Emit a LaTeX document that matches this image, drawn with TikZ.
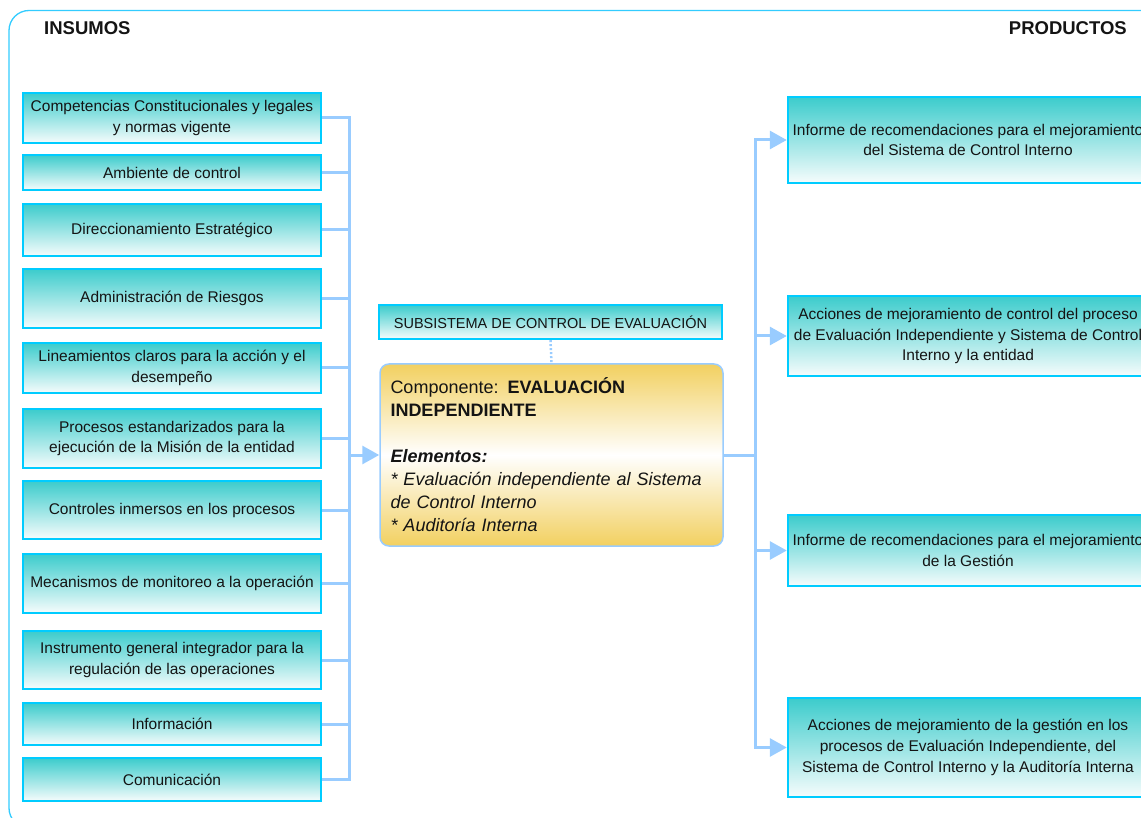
\documentclass[tikz,border=0pt]{standalone}
\usepackage{fontspec}
\setmainfont{Liberation Sans}
\usetikzlibrary{arrows.meta}
\definecolor{boxedge}{RGB}{0,204,255}
\definecolor{boxtop}{RGB}{60,204,204}
\definecolor{boxbot}{RGB}{246,252,252}
\definecolor{link}{RGB}{153,204,255}
\definecolor{framec}{RGB}{51,204,255}
\definecolor{gold}{RGB}{242,208,96}
\definecolor{ink}{RGB}{20,20,20}

\begin{document}
\begin{tikzpicture}[x=1pt,y=-1pt,
  inbox/.style={draw=boxedge, line width=2.4pt, top color=boxtop, bottom color=boxbot,
    minimum width=298pt, align=center, inner sep=2pt, text=ink,
    font=\fontsize{15.5}{20.7}\selectfont},
  outbox/.style={inbox, minimum width=360pt},
  conn/.style={draw=link, line width=3pt},
  tip/.style={-{Triangle[length=17pt,width=18pt]}},
  header/.style={font=\fontsize{18.5}{22}\selectfont\bfseries, text=ink, inner sep=0pt}
]
\useasboundingbox (0,0) rectangle (1141,818);

% outer frame
\draw[framec, line width=1.3pt, rounded corners=20pt] (9,10.5) rectangle (1170,828);

% column headings
\node[header, anchor=base west] (hin) at (44,35) {INSUMOS};
\node[header, anchor=base east] (hout) at (1127,35) {PRODUCTOS};

% inputs
\node[inbox, minimum height=50pt] (i1) at (172,118) {Competencias Constitucionales y legales\\y normas vigente};
\node[inbox, minimum height=35pt] (i2) at (172,172.5) {Ambiente de control};
\node[inbox, minimum height=52pt] (i3) at (172,230) {Direccionamiento Estratégico};
\node[inbox, minimum height=59pt] (i4) at (172,298.5) {Administración de Riesgos};
\node[inbox, minimum height=50pt] (i5) at (172,368) {Lineamientos claros para la acción y el\\desempeño};
\node[inbox, minimum height=59pt] (i6) at (172,438.5) {Procesos estandarizados para la\\ejecución de la Misión de la entidad};
\node[inbox, minimum height=58pt] (i7) at (172,510) {Controles inmersos en los procesos};
\node[inbox, minimum height=59pt] (i8) at (172,583.5) {Mecanismos de monitoreo a la operación};
\node[inbox, minimum height=58pt] (i9) at (172,660) {Instrumento general integrador para la\\regulación de las operaciones};
\node[inbox, minimum height=42pt] (i10) at (172,724) {Información};
\node[inbox, minimum height=43pt] (i11) at (172,779.5) {Comunicación};

% central component
\node[inbox, minimum width=343pt, minimum height=34pt, font=\fontsize{14.5}{17}\selectfont] (sub) at (550.5,322) {SUBSISTEMA DE CONTROL DE EVALUACIÓN};
\node[draw=link, line width=1.5pt, rounded corners=9pt, top color=gold, bottom color=gold, middle color=white,
  minimum width=343pt, minimum height=182pt, text width=322pt, align=left, text=ink,
  font=\fontsize{18}{23}\selectfont] (comp) at (551.5,455)
  {Componente: \textbf{EVALUACIÓN}\\\textbf{INDEPENDIENTE}\\[23pt]
   \textbf{\textit{Elementos:}}\\
   \textit{* Evaluación independiente al Sistema}\\
   \textit{de Control Interno}\\
   \textit{* Auditoría Interna}};
\draw[link, line width=2.5pt, dash pattern=on 2pt off 2pt] (sub.south) -- (comp.north);

% products
\node[outbox, minimum height=86pt] (o1) at (968,140) {Informe de recomendaciones para el mejoramiento\\del Sistema de Control Interno};
\node[outbox, minimum height=80pt] (o2) at (968,336) {Acciones de mejoramiento de control del proceso\\de Evaluación Independiente y Sistema de Control\\Interno y la entidad};
\node[outbox, minimum height=71pt] (o3) at (968,550.5) {Informe de recomendaciones para el mejoramiento\\de la Gestión};
\node[outbox, minimum height=99pt] (o4) at (968,747.5) {Acciones de mejoramiento de la gestión en los\\procesos de Evaluación Independiente, del\\Sistema de Control Interno y la Auditoría Interna};

% input bus
\coordinate (lbus) at (349,118);
\coordinate (lbusend) at (349,779.5);
\foreach \n in {i1,i2,i3,i4,i5,i6,i7,i8,i9,i10,i11}
  \draw[conn] (\n.east) -- (\n.east -| lbus);
\draw[conn, line cap=rect] (lbus) -- (lbusend);
\draw[conn, tip] (comp.west -| lbus) -- (comp.west);

% output bus
\coordinate (rbus) at (755,140);
\coordinate (rbusend) at (755,747.5);
\draw[conn] (comp.east) -- (comp.east -| rbus);
\draw[conn, line cap=rect] (rbus) -- (rbusend);
\foreach \n in {o1,o2,o3,o4}
  \draw[conn, tip] (\n.west -| rbus) -- (\n.west);
\end{tikzpicture}
\end{document}
